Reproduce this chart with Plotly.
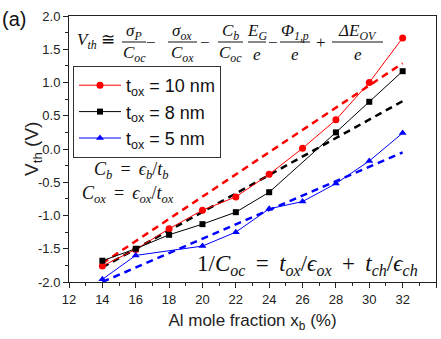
import plotly.graph_objects as go

# Al mole fraction (%) and threshold voltages for three oxide thicknesses
x_10nm = [14, 16, 18, 20, 22, 24, 26, 28, 30, 32]
vth_10nm = [-1.76, -1.51, -1.20, -0.92, -0.72, -0.38, 0.01, 0.44, 1.00, 1.67]

x_8nm = [14, 16, 18, 20, 22, 24, 28, 30, 32]
vth_8nm = [-1.68, -1.50, -1.29, -1.13, -0.95, -0.65, 0.25, 0.71, 1.17]

x_5nm = [14, 16, 20, 22, 24, 26, 28, 30, 32]
vth_5nm = [-1.96, -1.60, -1.46, -1.25, -0.90, -0.79, -0.52, -0.18, 0.24]

# Analytical model lines (dashed)
model_x = [14, 32]
model_10nm = [-1.72, 1.29]
model_8nm = [-1.78, 0.72]
model_5nm = [-2.0, -0.05]

x_ticks = [12, 14, 16, 18, 20, 22, 24, 26, 28, 30, 32, 34]
y_ticks = [-2.0, -1.5, -1.0, -0.5, 0.0, 0.5, 1.0, 1.5, 2.0]

RED = "#FF0000"
BLACK = "#000000"
BLUE = "#0000FF"

W, H = 441, 339
L, R, T, B = 69, 436, 16, 282


def px(xp):
    return (xp - L) / (R - L)


def py(yp):
    return (B - yp) / (B - T)


fig = go.Figure()

dash = "7px,5px"
for yy, col in [(model_10nm, RED), (model_8nm, BLACK), (model_5nm, BLUE)]:
    fig.add_trace(go.Scatter(x=model_x, y=yy, mode="lines", showlegend=False,
                             line=dict(color=col, width=2.5, dash=dash)))

fig.add_trace(go.Scatter(x=x_10nm, y=vth_10nm, mode="lines+markers",
                         name="t<sub>ox</sub> = 10 nm",
                         line=dict(color=RED, width=1),
                         marker=dict(color=RED, size=7, symbol="circle")))
fig.add_trace(go.Scatter(x=x_8nm, y=vth_8nm, mode="lines+markers",
                         name="t<sub>ox</sub> = 8 nm",
                         line=dict(color=BLACK, width=1),
                         marker=dict(color=BLACK, size=6, symbol="square")))
fig.add_trace(go.Scatter(x=x_5nm, y=vth_5nm, mode="lines+markers",
                         name="t<sub>ox</sub> = 5 nm",
                         line=dict(color=BLUE, width=1),
                         marker=dict(color=BLUE, size=7, symbol="triangle-up")))

SANS = "Liberation Sans, Arial, sans-serif"
SERIF = "Liberation Serif, serif"
SP = "\u2009"  # thin space around relation signs

annotations = []
shapes = []


def text(xp, yp, s, size=14, anchor="center", family=SERIF, angle=0, color="#111"):
    annotations.append(dict(x=px(xp), y=py(yp), xref="paper", yref="paper",
                            text=s, showarrow=False, xanchor=anchor, yanchor="middle",
                            textangle=angle,
                            font=dict(family=family, size=size, color=color)))


def frac(cx, x0, x1, num, den, size=17):
    text(cx, 32, num, size)
    text(cx, 54, den, size)
    shapes.append(dict(type="line", xref="paper", yref="paper",
                       x0=px(x0), x1=px(x1), y0=py(42), y1=py(42),
                       line=dict(color="#111", width=1)))


text(75, 41, "<i>V<sub>th</sub></i> ≅", 17, anchor="left")
frac(134, 122, 146, "<i>σ<sub>P</sub></i>", "<i>C<sub>oc</sub></i>")
text(150.5, 42, "−", 17)
frac(182, 168, 197, "<i>σ<sub>ox</sub></i>", "<i>C<sub>ox</sub></i>")
text(204.5, 42, "−", 17)
frac(230.5, 218, 243, "<i>C<sub>b</sub></i>", "<i>C<sub>oc</sub></i>")
frac(256.5, 248, 266, "<i>E<sub>G</sub></i>", "<i>e</i>")
text(272.5, 42, "−", 17)
frac(295, 280, 310, "<i>Φ<sub>1,p</sub></i>", "<i>e</i>")
text(320.5, 42, "+", 17)
frac(357.5, 332, 383, "<i>ΔE<sub>OV</sub></i>", "<i>e</i>")

text(131, 171, f"<i>C<sub>b</sub></i>{SP} = {SP}<i>ϵ<sub>b</sub></i>/<i>t<sub>b</sub></i>", 18)
text(127.5, 195, f"<i>C<sub>ox</sub></i>{SP} = {SP}<i>ϵ<sub>ox</sub></i>/<i>t<sub>ox</sub></i>", 18)
text(307.5, 265,
     f"1/<i>C<sub>oc</sub></i>{SP} = {SP}<i>t<sub>ox</sub></i>/<i>ϵ<sub>ox</sub></i>{SP} + {SP}"
     "<i>t<sub>ch</sub></i>/<i>ϵ<sub>ch</sub></i>", 23)
text(0, 19, "(a)", 20, anchor="left", family=SANS)
# y-axis title placed as a rotated annotation
text(33, 149, "V<sub>th</sub> (V)", 19, family=SANS, angle=-90, color="#222")

fig.update_layout(
    width=W, height=H,
    margin=dict(l=L, r=W - R, t=T, b=H - B, pad=0),
    paper_bgcolor="white", plot_bgcolor="white",
    font=dict(family=SANS, color="#222"),
    annotations=annotations, shapes=shapes,
    legend=dict(x=px(73), y=py(66), xanchor="left", yanchor="top",
                bgcolor="white", bordercolor="#333", borderwidth=1,
                font=dict(family=SANS, size=18, color="#111"),
                itemwidth=42, tracegroupgap=0),
)

fig.update_xaxes(range=[12, 34], tickvals=x_ticks, ticktext=[str(v) for v in x_ticks],
                 showgrid=False, zeroline=False, showline=True, linecolor="#222",
                 linewidth=1, mirror=True, ticks="outside", ticklen=5, tickcolor="#222",
                 tickfont=dict(size=13, color="#222"),
                 minor=dict(dtick=1, ticks="outside", ticklen=3, tickcolor="#222"),
                 title=dict(text="Al mole fraction x<sub>b</sub> (%)", standoff=8,
                            font=dict(size=17, color="#222")))
fig.update_yaxes(range=[-2, 2], tickvals=y_ticks, ticktext=[f"{v:.1f}" for v in y_ticks],
                 showgrid=False, zeroline=False, showline=True, linecolor="#222",
                 linewidth=1, mirror=True, ticks="outside", ticklen=5, tickcolor="#222",
                 tickfont=dict(size=13, color="#222"),
                 minor=dict(dtick=0.25, ticks="outside", ticklen=3, tickcolor="#222"))

fig.write_html("out.html")
